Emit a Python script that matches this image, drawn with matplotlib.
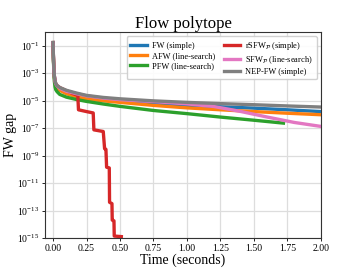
import numpy as np
import matplotlib
matplotlib.use("Agg")
import matplotlib.pyplot as plt

plt.rcParams['font.family'] = ['Liberation Serif', 'DejaVu Serif']
plt.rcParams['mathtext.fontset'] = 'stix'

# common time grid (seconds)
t_common = [0, 0.003, 0.006, 0.01, 0.015, 0.02, 0.03, 0.05, 0.1, 0.175, 0.25,
            0.375, 0.5, 0.75, 1.0, 1.25, 1.5, 1.75, 2.0]
# log10 of FW gap
fw_log = [-0.78, -1.85, -2.65, -3.25, -3.6, -3.8, -3.95, -4.1, -4.3, -4.5, -4.67,
          -4.85, -4.97, -5.18, -5.35, -5.45, -5.55, -5.67, -5.8]
afw_log = [-0.78, -1.9, -2.7, -3.35, -3.7, -3.9, -4.05, -4.25, -4.5, -4.72, -4.88,
           -5.02, -5.13, -5.35, -5.53, -5.67, -5.8, -5.92, -6.03]
nep_log = [-0.78, -1.8, -2.6, -3.2, -3.55, -3.75, -3.9, -4.05, -4.25, -4.45, -4.62,
           -4.77, -4.87, -5.02, -5.13, -5.22, -5.3, -5.39, -5.47]

t_pfw = [0, 0.003, 0.006, 0.01, 0.015, 0.02, 0.03, 0.05, 0.1, 0.175, 0.25,
         0.375, 0.5, 0.75, 1.0, 1.25, 1.5, 1.72]
pfw_log = [-0.78, -2.0, -2.9, -3.6, -4.0, -4.2, -4.35, -4.55, -4.75, -4.92, -5.06,
           -5.25, -5.42, -5.72, -5.95, -6.2, -6.43, -6.64]

t_sfw = [0, 0.003, 0.006, 0.01, 0.015, 0.02, 0.03, 0.05, 0.1, 0.175, 0.25,
         0.375, 0.5, 0.75, 1.0, 1.2, 1.4, 1.6, 1.8, 2.0]
sfw_log = [-0.78, -1.8, -2.6, -3.22, -3.58, -3.78, -3.93, -4.1, -4.32, -4.5, -4.65,
           -4.82, -4.93, -5.07, -5.24, -5.43, -5.79, -6.2, -6.59, -6.88]

t_rsfw = [0, 0.003, 0.006, 0.01, 0.015, 0.02, 0.03, 0.05, 0.1, 0.15, 0.185, 0.19,
          0.25, 0.30, 0.305, 0.375, 0.385, 0.395, 0.40, 0.42, 0.422, 0.44, 0.442,
          0.455, 0.457, 0.51]
rsfw_log = [-0.78, -1.8, -2.6, -3.2, -3.55, -3.75, -3.9, -4.05, -4.28, -4.5, -4.62,
            -5.67, -5.8, -5.9, -7.13, -7.25, -8.5, -8.55, -9.85, -9.9, -12.4, -12.5,
            -13.7, -13.75, -14.86, -14.9]

labels = ["FW (simple)", "AFW (line-search)", "PFW (line-search)",
          r"rSFW$_{\mathcal{P}}$ (simple)", r"SFW$_{\mathcal{P}}$ (line-search)",
          "NEP-FW (simple)"]
colors = ["#1f77b4", "#ff7f0e", "#2ca02c", "#d62728", "#e377c2", "#7f7f7f"]

series = [(t_common, fw_log), (t_common, afw_log), (t_pfw, pfw_log),
          (t_rsfw, rsfw_log), (t_sfw, sfw_log), (t_common, nep_log)]

fig = plt.figure(figsize=(3.57, 2.68), dpi=100)
ax = fig.add_axes([0.126, 0.112, 0.773, 0.769])

for (t, lg), lab, c in zip(series, labels, colors):
    ax.plot(t, 10.0 ** np.array(lg), color=c, lw=2.4, label=lab)

ax.set_yscale('log')
ax.set_xlim(-0.06, 2.0)
ax.set_ylim(1e-15, 1)
ax.set_yticks([10.0 ** k for k in range(-15, 0, 2)])
ax.yaxis.set_minor_locator(matplotlib.ticker.NullLocator())
ax.set_xticks([0, 0.25, 0.5, 0.75, 1.0, 1.25, 1.5, 1.75, 2.0])
ax.set_xticklabels(["0.00", "0.25", "0.50", "0.75", "1.00", "1.25", "1.50", "1.75", "2.00"])
ax.tick_params(direction='out', labelsize=7, length=2.5, width=0.6, pad=1.5)
ax.grid(True, color='#dddddd', lw=0.9)
ax.set_axisbelow(True)
for s in ax.spines.values():
    s.set_color('#333333')
    s.set_linewidth(0.8)

ax.set_title("Flow polytope", fontsize=12, pad=3)
ax.set_xlabel("Time (seconds)", fontsize=10, labelpad=1)
ax.set_ylabel("FW gap", fontsize=10, labelpad=0)

ax.legend(loc='upper right', ncol=2, fontsize=6, frameon=True, framealpha=0.9,
          handlelength=2.0, columnspacing=1.0, labelspacing=0.25, borderpad=0.45,
          handletextpad=0.6, edgecolor='#cccccc', fancybox=True)

fig.savefig("out.png", dpi=100)
